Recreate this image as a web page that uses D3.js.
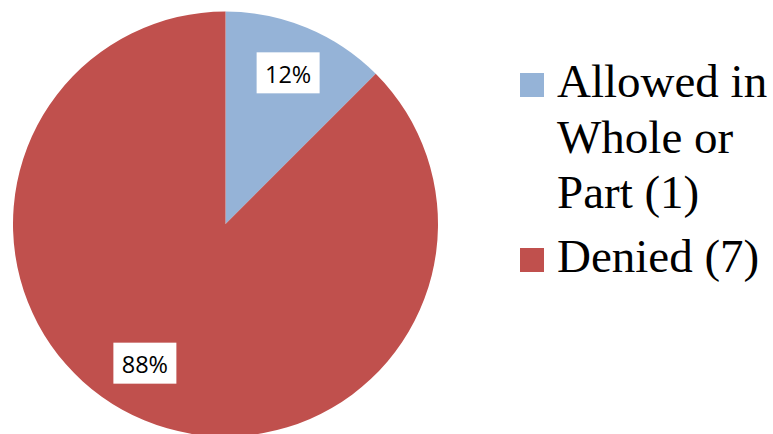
<!DOCTYPE html>
<html>
<head>
<meta charset="utf-8">
<script src="https://cdn.jsdelivr.net/npm/d3@7"></script>
<style>
body{margin:0;background:#fff;}
svg{display:block;}
</style>
</head>
<body>
<div id="viz_pie"></div>
<script>
// data
var categories=["Allowed in Whole or Part (1)","Denied (7)"];
var legendLines=[["Allowed in","Whole or","Part (1)"],["Denied (7)"]];
var counts=[1,7];
var colors=["#95b3d7","#c0504d"];

var width=773, height=434;
var cx=225.5, cy=224, radius=212.5;

var svg=d3.select("#viz_pie")
  .append("svg")
  .attr("width",width)
  .attr("height",height);

var pie=d3.pie().sort(null).value(function(d){return d;});
var arcs=pie(counts);
var total=d3.sum(counts);

// round half to even, so 12.5 -> 12 and 87.5 -> 88 like the original
function roundEven(v){
  var f=Math.floor(v), r=v-f;
  if(Math.abs(r-0.5)<1e-9){return f%2==0?f:f+1;}
  return Math.round(v);
}

var arc=d3.arc().innerRadius(0).outerRadius(radius);
// labels sit around 0.77 of the radius
var labelArc=d3.arc().innerRadius(radius*0.77).outerRadius(radius*0.77);

var g=svg.append("g").attr("transform","translate("+cx+","+cy+")");

g.selectAll("path.slice")
  .data(arcs)
  .enter()
  .append("path")
  .attr("class","slice")
  .attr("d",arc)
  .attr("fill",function(d,i){return colors[i];});

// percent labels with white boxes
var lab=g.selectAll("g.lab")
  .data(arcs)
  .enter()
  .append("g")
  .attr("class","lab")
  .attr("transform",function(d,i){
    var c=labelArc.centroid(d);
    // excel nudges the big slice label a bit to the left
    if(i==1){c=[c[0]-18,c[1]-12];}
    return "translate("+c[0]+","+c[1]+")";
  });

lab.append("rect")
  .attr("x",-31.5)
  .attr("y",-20.5)
  .attr("width",63)
  .attr("height",41)
  .attr("fill","white");

lab.append("text")
  .attr("y",10)
  .attr("text-anchor","middle")
  .style("font-family","'Open Sans', 'Liberation Sans', sans-serif")
  .style("font-size","23.5px")
  .attr("fill","#000")
  .text(function(d){return roundEven(d.data/total*100)+"%";});

// legend
var lineH=55.5;
var legendTop=[97,272];
var leg=svg.selectAll("g.legend")
  .data(categories)
  .enter()
  .append("g")
  .attr("class","legend");

leg.append("rect")
  .attr("x",520)
  .attr("y",function(d,i){return legendTop[i]-24;})
  .attr("width",24)
  .attr("height",24)
  .attr("fill",function(d,i){return colors[i];});

leg.each(function(d,i){
  var t=d3.select(this).append("text")
    .attr("x",557)
    .attr("y",legendTop[i])
    .style("font-family","'Liberation Serif', 'Times New Roman', serif")
    .style("font-size","47px")
    .attr("fill","#000");
  legendLines[i].forEach(function(s,j){
    t.append("tspan")
      .attr("x",557)
      .attr("dy",j==0?0:lineH)
      .text(s);
  });
});
</script>
</body>
</html>
